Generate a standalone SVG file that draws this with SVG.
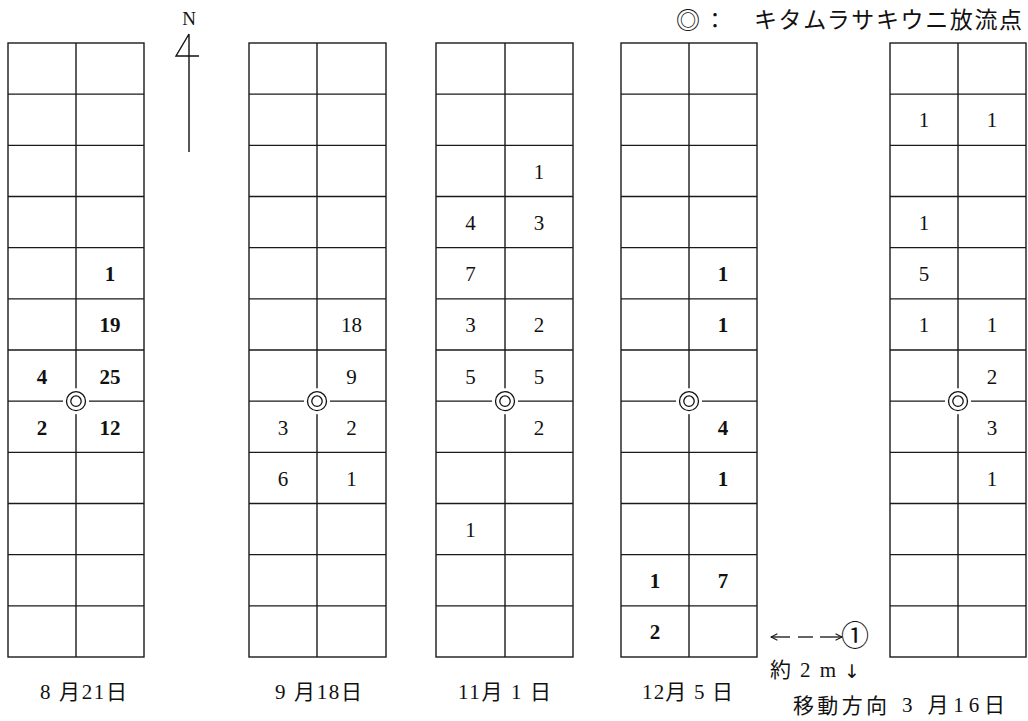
<svg xmlns="http://www.w3.org/2000/svg" width="1028" height="721" viewBox="0 0 1028 721">
<style>
.g{fill:none;stroke:#1a1a1a;stroke-width:1.4}
.n{font-family:"Liberation Serif",serif;font-size:21px;fill:#111;text-anchor:middle}
.b{font-weight:bold}
.j{font-family:"Liberation Serif","Noto Sans CJK JP",serif;font-size:21px;fill:#111}
</style>
<defs>
<g id="rows">
<path d="M0 51.17H136M0 102.33H136M0 153.5H136M0 204.67H136M0 255.83H136M0 307H136M0 358.17H136M0 409.33H136M0 460.5H136M0 511.67H136M0 562.83H136"/>
</g>
<g id="release">
<circle r="13" fill="#fff" stroke="none"/>
<circle r="9.5" fill="#fff" stroke="#111" stroke-width="1.3"/>
<circle r="5.2" fill="none" stroke="#111" stroke-width="1.3"/>
</g>
<marker id="ah" viewBox="0 0 10 10" refX="9" refY="5" markerWidth="8" markerHeight="8" orient="auto-start-reverse" markerUnits="userSpaceOnUse">
<path d="M1 1L9 5L1 9" fill="none" stroke="#111" stroke-width="1.3"/>
</marker>
</defs>

<g id="legend">
<text x="676" y="29" font-family="'Noto Sans CJK JP',sans-serif" font-size="24" fill="#111">◎</text>
<text x="715" y="28" font-family="'Noto Sans CJK JP',sans-serif" font-size="22" fill="#111" text-anchor="middle">：</text>
<text x="754" y="28" font-family="'Noto Sans CJK JP',sans-serif" font-size="23" fill="#111" textLength="268" lengthAdjust="spacing">キタムラサキウニ放流点</text>
</g>

<g id="north">
<text x="189" y="25" font-family="'Liberation Serif',serif" font-size="19" fill="#111" text-anchor="middle">N</text>
<path d="M189 34V152M189 34L176 56H199" fill="none" stroke="#111" stroke-width="1.4"/>
</g>

<g id="grid-0821">
<rect class="g" x="8" y="43" width="136" height="614"/>
<use href="#rows" class="g" transform="translate(8,43)"/>
<path class="g" d="M76 43V657"/>
<use href="#release" transform="translate(76,401.17)"/>
<text class="n b" x="110" y="281">1</text>
<text class="n b" x="110" y="332">19</text>
<text class="n b" x="42" y="384">4</text>
<text class="n b" x="110" y="384">25</text>
<text class="n b" x="42" y="435">2</text>
<text class="n b" x="110" y="435">12</text>
<text class="j" x="40" y="699" textLength="87" lengthAdjust="spacing">8 月21日</text>
</g>

<g id="grid-0918">
<rect class="g" x="249" y="43" width="137" height="614"/>
<use href="#rows" class="g" transform="translate(249,43) scale(1.007,1)"/>
<path class="g" d="M317 43V657"/>
<use href="#release" transform="translate(317,401.17)"/>
<text class="n" x="351.5" y="332">18</text>
<text class="n" x="351.5" y="384">9</text>
<text class="n" x="283" y="435">3</text>
<text class="n" x="351.5" y="435">2</text>
<text class="n" x="283" y="486">6</text>
<text class="n" x="351.5" y="486">1</text>
<text class="j" x="275" y="699" textLength="87" lengthAdjust="spacing">9 月18日</text>
</g>

<g id="grid-1101">
<rect class="g" x="436" y="43" width="137" height="614"/>
<use href="#rows" class="g" transform="translate(436,43) scale(1.007,1)"/>
<path class="g" d="M505 43V657"/>
<use href="#release" transform="translate(505,401.17)"/>
<text class="n" x="539" y="179">1</text>
<text class="n" x="470.5" y="230">4</text>
<text class="n" x="539" y="230">3</text>
<text class="n" x="470.5" y="281">7</text>
<text class="n" x="470.5" y="332">3</text>
<text class="n" x="539" y="332">2</text>
<text class="n" x="470.5" y="384">5</text>
<text class="n" x="539" y="384">5</text>
<text class="n" x="539" y="435">2</text>
<text class="n" x="470.5" y="537">1</text>
<text class="j" x="458" y="699" textLength="93" lengthAdjust="spacing">11月 1 日</text>
</g>

<g id="grid-1205">
<rect class="g" x="621" y="43" width="136" height="614"/>
<use href="#rows" class="g" transform="translate(621,43)"/>
<path class="g" d="M689 43V657"/>
<use href="#release" transform="translate(689,401.17)"/>
<text class="n b" x="723" y="281">1</text>
<text class="n b" x="723" y="332">1</text>
<text class="n b" x="723" y="435">4</text>
<text class="n b" x="723" y="486">1</text>
<text class="n b" x="655" y="588">1</text>
<text class="n b" x="723" y="588">7</text>
<text class="n b" x="655" y="639">2</text>
<text class="j" x="642" y="699" textLength="91" lengthAdjust="spacing">12月 5 日</text>
</g>

<g id="grid-0316">
<rect class="g" x="890" y="43" width="136" height="614"/>
<use href="#rows" class="g" transform="translate(890,43)"/>
<path class="g" d="M958 43V657"/>
<use href="#release" transform="translate(958,401.17)"/>
<text class="n" x="924" y="127">1</text>
<text class="n" x="992" y="127">1</text>
<text class="n" x="924" y="230">1</text>
<text class="n" x="924" y="281">5</text>
<text class="n" x="924" y="332">1</text>
<text class="n" x="992" y="332">1</text>
<text class="n" x="992" y="384">2</text>
<text class="n" x="992" y="435">3</text>
<text class="n" x="992" y="486">1</text>
<text class="j" x="902" y="712" textLength="103" lengthAdjust="spacing">3 月16日</text>
</g>

<g id="connectors">
<line x1="771" y1="637" x2="790" y2="637" stroke="#111" stroke-width="1.3" marker-start="url(#ah)"/>
<line x1="798" y1="637" x2="813" y2="637" stroke="#111" stroke-width="1.3"/>
<line x1="820" y1="637" x2="842" y2="637" stroke="#111" stroke-width="1.3" marker-end="url(#ah)"/>
</g>

<g id="scale-note">
<text x="855" y="646" font-family="'Noto Sans CJK JP',sans-serif" font-size="28" fill="#111" text-anchor="middle">①</text>
<text class="j" x="770" y="677" textLength="66" lengthAdjust="spacing">約 2 m</text>
<text x="852" y="678" font-family="'DejaVu Sans',sans-serif" font-size="19" font-weight="normal" fill="#111" text-anchor="middle">↓</text>
<text class="j" x="793" y="713" textLength="94" lengthAdjust="spacing">移動方向</text>
</g>
</svg>
